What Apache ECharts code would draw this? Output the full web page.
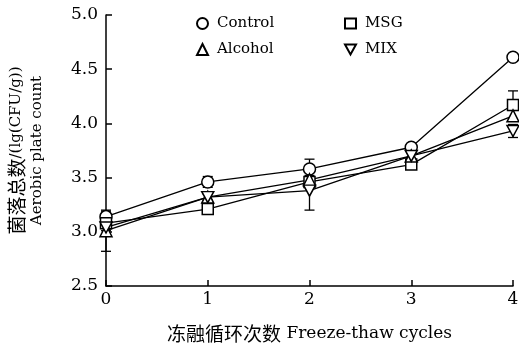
<!DOCTYPE html>
<html><head><meta charset="utf-8">
<script src="https://cdn.jsdelivr.net/npm/echarts@6/dist/echarts.min.js"></script>
<style>html,body{margin:0;padding:0;background:#fff}#c{width:519px;height:346px}</style>
</head><body><div id="c"></div>
<script>
const cycles = [0, 1, 2, 3, 4];
const xTicks = ['0', '1', '2', '3', '4'];
const yTicks = ['2.5', '3.0', '3.5', '4.0', '4.5', '5.0'];
const seriesNames = ['Control', 'MSG', 'Alcohol', 'MIX'];
const control = [3.14, 3.46, 3.58, 3.78, 4.61];
const msg = [3.08, 3.21, 3.46, 3.62, 4.17];
const alcohol = [3.01, 3.32, 3.48, 3.70, 4.07];
const mix = [3.04, 3.32, 3.38, 3.70, 3.93];
const controlErr = [0.05, 0.05, 0.09, 0.02, 0.03];
const msgErr = [0.03, 0.03, 0.04, 0.03, 0.13];
const alcoholErr = [0.19, 0.03, 0.04, 0.03, 0.05];
const mixErr = [0.03, 0.03, 0.18, 0.03, 0.06];

const serif = "'DejaVu Serif','Liberation Serif','Noto Sans CJK SC',serif";
const cjk = "'Noto Sans CJK SC',sans-serif";
const values = [control, msg, alcohol, mix];
const errs = [controlErr, msgErr, alcoholErr, mixErr];
const symbols = ['circle', 'rect', 'triangle', 'path://M0,0 L10,0 L5,9 Z'];

const series = [];
values.forEach((vals, i) => {
  series.push({
    type: 'custom', silent: true, z: 1,
    data: cycles.map((c, j) => [c, vals[j] - errs[i][j], vals[j] + errs[i][j]]),
    renderItem: (params, api) => {
      const lo = api.coord([api.value(0), api.value(1)]);
      const hi = api.coord([api.value(0), api.value(2)]);
      const w = 5;
      const st = { stroke: '#000', lineWidth: 1.3 };
      return { type: 'group', children: [
        { type: 'line', shape: { x1: lo[0], y1: lo[1], x2: hi[0], y2: hi[1] }, style: st },
        { type: 'line', shape: { x1: lo[0] - w, y1: lo[1], x2: lo[0] + w, y2: lo[1] }, style: st },
        { type: 'line', shape: { x1: hi[0] - w, y1: hi[1], x2: hi[0] + w, y2: hi[1] }, style: st }
      ]};
    }
  });
});
values.forEach((vals, i) => {
  series.push({
    name: seriesNames[i], type: 'line', z: 3,
    data: cycles.map((c, j) => [c, vals[j]]),
    symbol: symbols[i], symbolSize: i === 3 ? [12, 11] : (i === 1 ? 11 : 12),
    showAllSymbol: true,
    itemStyle: { color: '#fff', borderColor: '#000', borderWidth: 1.5 },
    lineStyle: { color: '#000', width: 1.3 },
    emphasis: { disabled: true }
  });
});

const legendPos = [[196, 16], [344, 16], [196, 42], [344, 42]];
const legends = seriesNames.map((n, i) => ({
  left: legendPos[i][0], top: legendPos[i][1],
  data: [{ name: n, icon: symbols[i] }],
  itemWidth: 11, itemHeight: i === 1 ? 10 : 11, itemGap: 0,
  textStyle: { fontFamily: serif, fontSize: 15, color: '#000', padding: [0, 0, 0, 4] },
  padding: 0
}));

const chart = echarts.init(document.getElementById('c'), null, { renderer: 'canvas' });
chart.setOption({
  animation: false,
  backgroundColor: '#fff',
  grid: { left: 106, right: 6, top: 15, bottom: 60, containLabel: false, outerBoundsMode: 'none' },
  legend: legends,
  xAxis: {
    type: 'value', min: 0, max: 4, interval: 1,
    name: '{cn|冻融循环次数} Freeze-thaw cycles', nameLocation: 'middle', nameGap: 38,
    nameTextStyle: { fontFamily: serif, fontSize: 17, color: '#000',
      rich: { cn: { fontFamily: cjk, fontSize: 19, color: '#000' } } },
    axisLine: { lineStyle: { color: '#000', width: 1.5 } },
    axisTick: { inside: true, length: 6, lineStyle: { color: '#000', width: 1.5 } },
    axisLabel: { fontFamily: serif, fontSize: 17, color: '#000', margin: 5,
      formatter: v => xTicks[Math.round(v)] },
    splitLine: { show: false }
  },
  yAxis: {
    type: 'value', min: 2.5, max: 5, interval: 0.5,
    name: '{cn|菌落总数}/(lg(CFU/g))\nAerobic plate count', nameLocation: 'middle', nameGap: 58, nameRotate: 90,
    nameTextStyle: { fontFamily: serif, fontSize: 15, color: '#000', lineHeight: 21,
      rich: { cn: { fontFamily: cjk, fontSize: 19, color: '#000', lineHeight: 21 } } },
    axisLine: { show: true, lineStyle: { color: '#000', width: 1.5 } },
    axisTick: { inside: true, length: 6, lineStyle: { color: '#000', width: 1.5 } },
    axisLabel: { fontFamily: serif, fontSize: 17, color: '#000', margin: 8,
      formatter: v => yTicks[Math.round((v - 2.5) / 0.5)] },
    splitLine: { show: false }
  },
  series: series
});
</script></body></html>
